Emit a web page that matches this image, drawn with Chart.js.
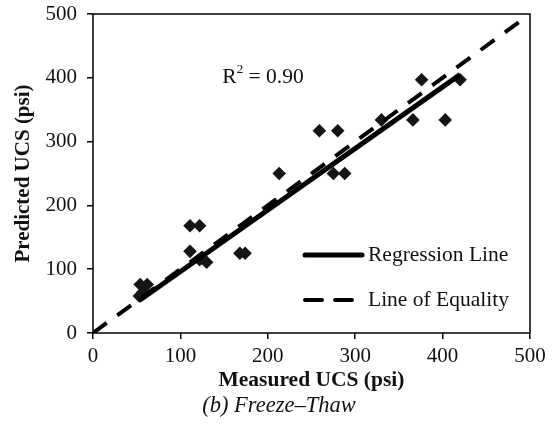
<!DOCTYPE html>
<html>
<head>
<meta charset="utf-8">
<script src="https://cdn.jsdelivr.net/npm/chart.js@4.4.0/dist/chart.umd.min.js"></script>
<style>
  html, body { margin: 0; padding: 0; background: #fff; }
  canvas { display: block; }
</style>
</head>
<body>
<canvas id="ucsChart" width="558" height="434"></canvas>
<script>
// Measured vs predicted UCS (psi), freeze-thaw samples
const measured  = [53, 57, 54, 62, 111, 122, 111, 122, 130, 168, 174, 213, 259, 280, 275, 288, 330, 366, 403, 376, 420];
const predicted = [58, 64, 76, 76, 168, 168, 128, 115, 111, 125, 125, 250, 317, 317, 250, 250, 334, 334, 334, 397, 397];

// fitted regression line (end points) and the 1:1 line
const regressionX = [53, 420];
const regressionY = [51, 405];
const equalityX = [0, 500];
const equalityY = [0, 500];

const rSquared = "0.90";
const r2Anchor = { x: 148, y: 401 }; // data units

const serif = "'Liberation Serif', 'Times New Roman', serif";
const ink = "#111";

const toPoints = (xs, ys) => xs.map((x, i) => ({ x: x, y: ys[i] }));

// box round the plot, R² note and the legend inside the plot
const framePlugin = {
  id: "frame",
  afterDatasetsDraw(chart) {
    const { ctx, chartArea: a, scales } = chart;
    ctx.save();
    ctx.strokeStyle = "#000";
    ctx.lineWidth = 1.5;
    ctx.strokeRect(a.left, a.top, a.right - a.left, a.bottom - a.top);

    // R² = 0.90
    let x = scales.x.getPixelForValue(r2Anchor.x);
    const y = scales.y.getPixelForValue(r2Anchor.y);
    ctx.fillStyle = ink;
    ctx.textBaseline = "middle";
    ctx.textAlign = "left";
    ctx.font = "21.5px " + serif;
    ctx.fillText("R", x, y);
    x += ctx.measureText("R").width;
    ctx.font = "13px " + serif;
    ctx.fillText("2", x, y - 8);
    x += ctx.measureText("2").width;
    ctx.font = "21.5px " + serif;
    ctx.fillText(" = " + rSquared, x, y);

    // legend
    const lines = chart.data.datasets.filter(d => d.showLine);
    const lx = a.right - 225;
    lines.forEach((d, i) => {
      const ly = a.bottom - 78 + i * 45;
      ctx.beginPath();
      ctx.setLineDash(d.borderDash || []);
      ctx.lineWidth = d.borderWidth;
      ctx.strokeStyle = d.borderColor;
      ctx.lineCap = "round";
      ctx.moveTo(lx, ly);
      ctx.lineTo(lx + 57, ly);
      ctx.stroke();
      ctx.setLineDash([]);
      ctx.font = "21.5px " + serif;
      ctx.fillStyle = ink;
      ctx.fillText(d.label, lx + 63, ly);
    });
    ctx.restore();
  }
};

new Chart(document.getElementById("ucsChart"), {
  type: "scatter",
  data: {
    datasets: [
      {
        label: "Measured vs Predicted",
        data: toPoints(measured, predicted),
        pointStyle: "rectRot",
        pointRadius: 6.8,
        pointHoverRadius: 6.8,
        backgroundColor: "#151515",
        borderColor: "#151515",
        borderWidth: 0,
        order: 2,
      },
      {
        label: "Regression Line",
        data: toPoints(regressionX, regressionY),
        showLine: true,
        borderColor: "#000",
        borderWidth: 5,
        pointRadius: 0,
        order: 1,
      },
      {
        label: "Line of Equality",
        data: toPoints(equalityX, equalityY),
        showLine: true,
        borderColor: "#000",
        borderWidth: 4,
        borderDash: [17, 13],
        pointRadius: 0,
        order: 0,
      },
    ],
  },
  options: {
    responsive: false,
    animation: false,
    devicePixelRatio: 1,
    layout: { padding: { top: 14, right: 0, left: 0, bottom: 0 } },
    plugins: {
      legend: { display: false },
      tooltip: { enabled: false },
      title: {
        display: true,
        position: "bottom",
        text: "(b) Freeze\u2013Thaw",
        color: ink,
        font: { family: serif, size: 22.5, style: "italic", weight: "normal" },
        padding: { top: 0, bottom: 14 },
      },
    },
    scales: {
      x: {
        type: "linear",
        min: 0,
        max: 500,
        ticks: { stepSize: 100, color: ink, padding: 5, font: { family: serif, size: 21 } },
        grid: { display: true, drawOnChartArea: false, tickLength: 6, color: "#000", lineWidth: 1.5 },
        border: { display: false },
        title: {
          display: true,
          text: "Measured UCS (psi)",
          color: ink,
          font: { family: serif, size: 21.5, weight: "bold" },
          padding: { top: 0, bottom: 0 },
        },
        afterFit(scale) {
          scale.height = 60;
          scale.paddingLeft = 0;
          scale.paddingRight = 28;
        },
      },
      y: {
        type: "linear",
        min: 0,
        max: 500,
        ticks: { stepSize: 100, color: ink, padding: 10, font: { family: serif, size: 21 } },
        grid: { display: true, drawOnChartArea: false, tickLength: 6, color: "#000", lineWidth: 1.5 },
        border: { display: false },
        title: {
          display: true,
          text: "Predicted UCS (psi)",
          color: ink,
          font: { family: serif, size: 21, weight: "bold" },
          padding: { top: 11, bottom: 0 },
        },
        afterFit(scale) {
          scale.width = 93;
          scale.paddingTop = 0;
          scale.paddingBottom = 0;
        },
      },
    },
  },
  plugins: [framePlugin],
});
</script>
</body>
</html>
